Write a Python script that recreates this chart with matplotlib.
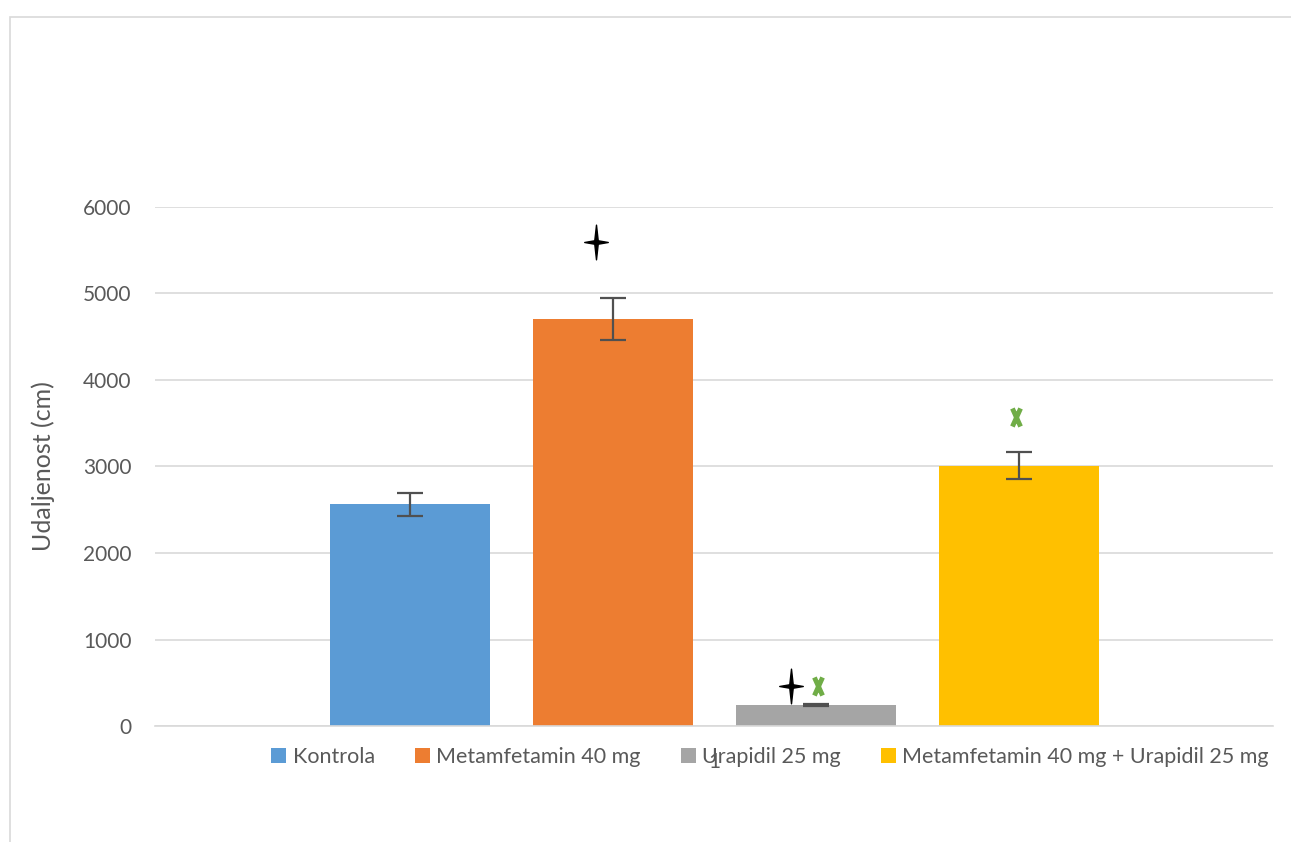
import matplotlib
matplotlib.use("Agg")
import matplotlib.pyplot as plt
from matplotlib.path import Path
from matplotlib.patches import Rectangle
import numpy as np

plt.rcParams['font.family'] = ['Lato', 'DejaVu Sans']

groups = ["Kontrola", "Metamfetamin 40 mg", "Urapidil 25 mg", "Metamfetamin 40 mg + Urapidil 25 mg"]
values = [2566, 4705, 243, 3006]
errors = [133, 243, 10, 156]
colors = ["#5B9BD5", "#ED7D31", "#A5A5A5", "#FFC000"]
category_labels = ["1"]

# significance markers: (group index, value)
star_groups = [1, 2]
star_values = [5595, 462]
x_groups = [2, 3]
x_values = [462, 3572]

W, H = 1291, 842
fig = plt.figure(figsize=(W / 100, H / 100), dpi=100)
fig.patch.set_facecolor("white")
fig.patches.append(Rectangle((10 / W, -0.05), 1.2, 1 - 17 / H + 0.05, transform=fig.transFigure,
                             fill=False, edgecolor="#d9d9d9", linewidth=1.2))

ax = fig.add_axes([155 / W, 1 - 726 / H, (1273 - 155) / W, (726 - 207) / H])

spacing = 1.0
bw = 160 / 203
pos = (np.arange(len(groups)) - 1.5) * spacing
for p, v, e, c, g in zip(pos, values, errors, colors, groups):
    ax.bar(p, v, width=bw, color=c, label=g, zorder=2)
    ax.errorbar(p, v, yerr=e, fmt="none", ecolor="#505050", elinewidth=1.6, capsize=9.5, capthick=1.6, zorder=3)

star = Path([(0, 1), (0.1, 0.1), (0.68, 0), (0.1, -0.1), (0, -1), (-0.1, -0.1), (-0.68, 0), (-0.1, 0.1), (0, 1)],
            [Path.MOVETO] + [Path.LINETO] * 7 + [Path.CLOSEPOLY])
star_x = [pos[i] for i in star_groups]
ax.plot(np.array(star_x) - np.array([0.079, 0.123]), star_values, linestyle="none", marker=star, markersize=25,
        color="black", zorder=4)

xmark = Path([(-0.45, -1), (0.45, 1), (-0.45, 1), (0.45, -1)], [Path.MOVETO, Path.LINETO, Path.MOVETO, Path.LINETO])
xx = [pos[i] for i in x_groups]
ax.plot(np.array(xx) + np.array([0.01, -0.01]), x_values, linestyle="none", marker=xmark, markersize=13,
        markeredgewidth=3.5, color="#70AD47", fillstyle="none", zorder=4)

ax.set_xlim(-(1118 / 203) / 2, (1118 / 203) / 2)
ax.set_ylim(0, 6000)
ax.set_yticks(np.arange(0, 6001, 1000))
ax.set_xticks([0])
ax.set_xticklabels(category_labels)
ax.grid(axis="y", color="#d9d9d9", linewidth=1.2, zorder=0)
ax.set_axisbelow(True)
for s in ["top", "right", "left"]:
    ax.spines[s].set_visible(False)
ax.spines["bottom"].set_color("#d9d9d9")
ax.spines["bottom"].set_linewidth(1.2)
ax.tick_params(axis="both", length=0, labelsize=15, colors="#595959")
ax.tick_params(axis="y", pad=17)
ax.tick_params(axis="x", pad=19)
ax.set_ylabel("Udaljenost (cm)", fontsize=18, color="#595959", labelpad=20)

fig.legend(loc="center", bbox_to_anchor=(770 / W, 1 - 757 / H), ncol=4, frameon=False,
           fontsize=15.5, labelcolor="#595959", handlelength=0.7, handleheight=0.7,
           handletextpad=0.3, columnspacing=1.85, borderpad=0)

fig.savefig("out.png", dpi=100, facecolor="white")
